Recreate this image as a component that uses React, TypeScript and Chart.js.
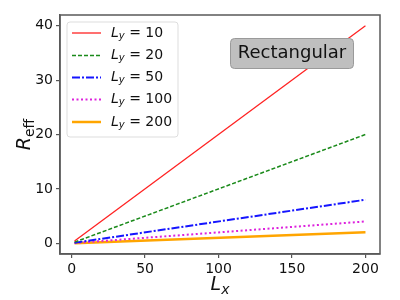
import React, { useEffect, useRef } from "react";
import { Chart, registerables } from "chart.js";

Chart.register(...registerables);

const LX = [2, 200];
const LY_VALUES = ["10", "20", "50", "100", "200"];
const R_LY10 = [0.4, 40];
const R_LY20 = [0.2, 20];
const R_LY50 = [0.08, 8];
const R_LY100 = [0.04, 4];
const R_LY200 = [0.02, 2];
const X_TICKS = [0, 50, 100, 150, 200];
const Y_TICKS = [0, 10, 20, 30, 40];
const ANNOTATION = "Rectangular";

const FONT = "'DejaVu Sans', sans-serif";

type Part = { text: string; font: string; dy: number };

function partsWidth(ctx: CanvasRenderingContext2D, parts: Part[]) {
  let w = 0;
  for (const p of parts) {
    ctx.font = p.font;
    w += ctx.measureText(p.text).width;
  }
  return w;
}

function drawParts(ctx: CanvasRenderingContext2D, parts: Part[], x: number, y: number) {
  let cx = x;
  for (const p of parts) {
    ctx.font = p.font;
    ctx.fillText(p.text, cx, y + p.dy);
    cx += ctx.measureText(p.text).width;
  }
}

function roundRect(ctx: CanvasRenderingContext2D, x: number, y: number, w: number, h: number, r: number) {
  ctx.beginPath();
  ctx.moveTo(x + r, y);
  ctx.lineTo(x + w - r, y);
  ctx.quadraticCurveTo(x + w, y, x + w, y + r);
  ctx.lineTo(x + w, y + h - r);
  ctx.quadraticCurveTo(x + w, y + h, x + w - r, y + h);
  ctx.lineTo(x + r, y + h);
  ctx.quadraticCurveTo(x, y + h, x, y + h - r);
  ctx.lineTo(x, y + r);
  ctx.quadraticCurveTo(x, y, x + r, y);
  ctx.closePath();
}

const seriesStyles = [
  { color: "#ff2222", width: 1.3, dash: [] as number[] },
  { color: "#1a8a1a", width: 1.5, dash: [4, 2] },
  { color: "#1515ff", width: 2, dash: [8, 2, 2, 2] },
  { color: "#dd22dd", width: 2, dash: [2, 2.5] },
  { color: "#ffa500", width: 2.5, dash: [] as number[] },
];

const overlayPlugin = {
  id: "overlay",
  afterDraw(chart: any) {
    const ctx: CanvasRenderingContext2D = chart.ctx;
    const a = chart.chartArea;
    ctx.save();
    // frame
    ctx.strokeStyle = "#5a5a5a";
    ctx.lineWidth = 1.5;
    ctx.strokeRect(a.left, a.top, a.right - a.left, a.bottom - a.top);

    // legend
    const lx = 67, ly = 22, lw = 111, lh = 115;
    roundRect(ctx, lx, ly, lw, lh, 3);
    ctx.fillStyle = "rgba(255,255,255,0.85)";
    ctx.fill();
    ctx.strokeStyle = "#dddddd";
    ctx.lineWidth = 1;
    ctx.stroke();
    const rows = [33, 55.5, 77.5, 99.5, 122];
    ctx.textBaseline = "middle";
    ctx.textAlign = "left";
    LY_VALUES.forEach((v, i) => {
      const s = seriesStyles[i];
      ctx.beginPath();
      ctx.strokeStyle = s.color;
      ctx.lineWidth = s.width;
      ctx.setLineDash(s.dash);
      ctx.moveTo(72, rows[i]);
      ctx.lineTo(101, rows[i]);
      ctx.stroke();
      ctx.setLineDash([]);
      ctx.fillStyle = "#111";
      drawParts(
        ctx,
        [
          { text: "L", font: `italic 14px ${FONT}`, dy: 0 },
          { text: "y", font: `italic 10px ${FONT}`, dy: 3 },
          { text: " = " + v, font: `14px ${FONT}`, dy: 0 },
        ],
        111,
        rows[i]
      );
    });

    // annotation box
    roundRect(ctx, 230.5, 38.5, 123, 30, 4);
    ctx.fillStyle = "#bfbfbf";
    ctx.fill();
    ctx.strokeStyle = "#9a9a9a";
    ctx.lineWidth = 1;
    ctx.stroke();
    ctx.fillStyle = "#111";
    ctx.font = `18px ${FONT}`;
    ctx.textAlign = "center";
    ctx.fillText(ANNOTATION, 292, 53.5);

    // x-axis title
    ctx.textAlign = "left";
    ctx.textBaseline = "alphabetic";
    const xParts: Part[] = [
      { text: "L", font: `italic 19px ${FONT}`, dy: 0 },
      { text: "x", font: `italic 14px ${FONT}`, dy: 4 },
    ];
    const xw = partsWidth(ctx, xParts);
    drawParts(ctx, xParts, (a.left + a.right) / 2 - xw / 2, 290);

    // y-axis title
    const yParts: Part[] = [
      { text: "R", font: `italic 19px ${FONT}`, dy: 0 },
      { text: "eff", font: `14px ${FONT}`, dy: 4 },
    ];
    const yw = partsWidth(ctx, yParts);
    ctx.translate(30, (a.top + a.bottom) / 2);
    ctx.rotate(-Math.PI / 2);
    drawParts(ctx, yParts, -yw / 2, 0);
    ctx.restore();
  },
};

export default function App() {
  const ref = useRef<HTMLCanvasElement | null>(null);
  useEffect(() => {
    if (!ref.current) return;
    const seriesValues = [R_LY10, R_LY20, R_LY50, R_LY100, R_LY200];
    const chart = new Chart(ref.current, {
      type: "line",
      data: {
        datasets: seriesValues.map((vals, i) => ({
          label: "Ly = " + LY_VALUES[i],
          data: LX.map((x, j) => ({ x, y: vals[j] })),
          borderColor: seriesStyles[i].color,
          borderWidth: seriesStyles[i].width,
          borderDash: seriesStyles[i].dash,
          pointRadius: 0,
          fill: false,
          tension: 0,
        })),
      },
      options: {
        animation: false,
        responsive: false,
        maintainAspectRatio: false,
        layout: { padding: { top: 15, right: 20, left: 0, bottom: 0 } },
        plugins: { legend: { display: false }, tooltip: { enabled: false } },
        scales: {
          x: {
            type: "linear",
            min: -7.9,
            max: 209.9,
            afterBuildTicks: (s: any) => {
              s.ticks = X_TICKS.map((v) => ({ value: v }));
            },
            afterFit: (s: any) => {
              s.height = 46;
            },
            grid: { display: true, drawOnChartArea: false, drawTicks: true, tickLength: 4, color: "#555", lineWidth: 1.2 },
            border: { display: true, color: "#5a5a5a", width: 1.5 },
            ticks: { font: { family: FONT, size: 14 }, color: "#111", padding: 3, maxRotation: 0 },
          },
          y: {
            type: "linear",
            min: -1.98,
            max: 41.98,
            afterBuildTicks: (s: any) => {
              s.ticks = Y_TICKS.map((v) => ({ value: v }));
            },
            afterFit: (s: any) => {
              s.width = 60;
            },
            grid: { display: true, drawOnChartArea: false, drawTicks: true, tickLength: 4, color: "#555", lineWidth: 1.2 },
            border: { display: true, color: "#5a5a5a", width: 1.5 },
            ticks: { font: { family: FONT, size: 14 }, color: "#111", padding: 3 },
          },
        },
      },
      plugins: [overlayPlugin],
    });
    return () => chart.destroy();
  }, []);
  return (
    <div style={{ position: "absolute", left: 0, top: 0, width: 400, height: 300 }}>
      <canvas ref={ref} width={400} height={300} style={{ width: 400, height: 300 }} />
    </div>
  );
}
